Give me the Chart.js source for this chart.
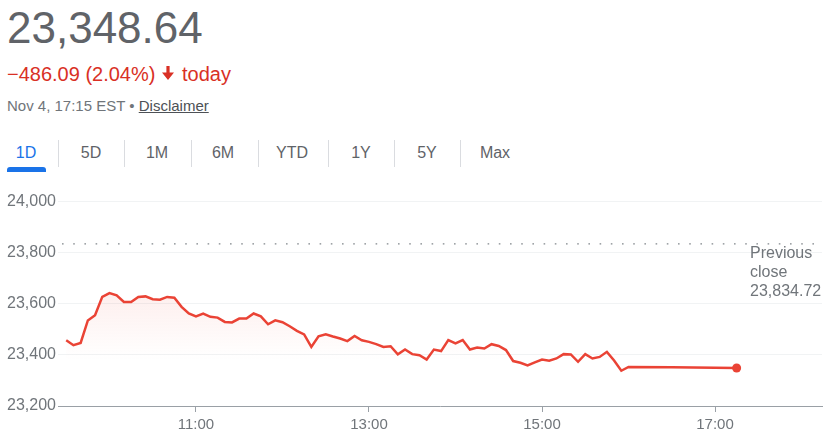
<!DOCTYPE html>
<html>
<head>
<meta charset="utf-8">
<script src="https://cdn.jsdelivr.net/npm/chart.js@4"></script>
<style>
  body { margin: 0; background: #fff; font-family: Arial, "Liberation Sans", sans-serif; }
  #page { position: relative; width: 835px; height: 439px; overflow: hidden; }
  .abs { position: absolute; white-space: nowrap; }
  #price { left: 7px; top: 6px; font-size: 44px; line-height: 44px; color: #606368; }
  #change { left: 7px; top: 62px; font-size: 20px; line-height: 24px; color: #d93025; }
  #today { left: 182px; top: 62px; font-size: 20px; line-height: 24px; color: #d93025; }
  #arrow { left: 162px; top: 66px; }
  #date { left: 7px; top: 97px; font-size: 15px; line-height: 18px; color: #70757a; }
  #date u { color: #4d5156; }
  .tab { width: 60px; text-align: center; top: 143px; font-size: 16px; line-height: 20px; color: #5f6368; }
  .sep { width: 1px; top: 140px; height: 27px; background: #dadce0; }
  #underline { left: 7px; top: 167px; width: 39px; height: 5px; background: #1a73e8; border-radius: 3px 3px 0 0; }
  #prev { left: 750px; top: 243px; font-size: 16px; line-height: 19px; color: #70757a; }
  #chartBox { position: absolute; left: 0; top: 190px; width: 835px; height: 249px; }
</style>
</head>
<body>
<div id="page">
  <div class="abs" id="price">23,348.64</div>
  <div class="abs" id="change">−486.09 (2.04%)</div>
  <svg class="abs" id="arrow" width="12" height="14" viewBox="0 0 12 14"><path fill="#d93025" d="M4.4 0h3.2v6.6H12L6 14 0 6.6h4.4z"/></svg>
  <div class="abs" id="today">today</div>
  <div class="abs" id="date">Nov 4, 17:15 EST • <u>Disclaimer</u></div>
  <div id="tabs"></div>
  <div class="abs" id="underline"></div>
  <div id="chartBox"><canvas id="lineChart" width="835" height="249"></canvas></div>
  <div class="abs" id="prev">Previous<br>close<br>23,834.72</div>
</div>
<script>
// trading times (EST) and index values
const times = [
  "09:30","09:35","09:40","09:45","09:50","09:55",
  "10:00","10:05","10:10","10:15","10:20","10:25","10:30","10:35","10:40","10:45","10:50","10:55",
  "11:00","11:05","11:10","11:15","11:20","11:25","11:30","11:35","11:40","11:45","11:50","11:55",
  "12:00","12:05","12:10","12:15","12:20","12:25","12:30","12:35","12:40","12:45","12:50","12:55",
  "13:00","13:05","13:10","13:15","13:20","13:25","13:30","13:35","13:40","13:45","13:50","13:55",
  "14:00","14:05","14:10","14:15","14:20","14:25","14:30","14:35","14:40","14:45","14:50","14:55",
  "15:00","15:05","15:10","15:15","15:20","15:25","15:30","15:35","15:40","15:45","15:50","15:55",
  "16:00","16:30","17:00","17:15"
];
const values = [
  23457, 23438, 23447, 23535, 23555, 23627, 23642, 23633, 23607, 23607,
  23627, 23629, 23618, 23616, 23627, 23624, 23588, 23562, 23551, 23562,
  23549, 23546, 23529, 23527, 23542, 23542, 23562, 23551, 23520, 23535,
  23528, 23512, 23494, 23480, 23431, 23473, 23481, 23472, 23464, 23454,
  23474, 23457, 23451, 23442, 23431, 23434, 23402, 23421, 23403, 23399,
  23382, 23421, 23415, 23458, 23445, 23458, 23421, 23429, 23425, 23442,
  23435, 23419, 23376, 23369, 23359, 23371, 23382, 23377, 23386, 23403,
  23402, 23373, 23403, 23386, 23392, 23412, 23378, 23338, 23353,
  23352, 23350, 23348.64
];
const previousClose = 23834.72;

const xTickLabels = ["11:00", "13:00", "15:00", "17:00"];
const yTickLabels = ["23,200", "23,400", "23,600", "23,800", "24,000"];
const yTickValues = [23200, 23400, 23600, 23800, 24000];

const tabNames = ["1D", "5D", "1M", "6M", "YTD", "1Y", "5Y", "Max"];

// tabs row
const tabCenters = [26, 91, 157, 223, 292, 361, 427, 495];
const sepX = [58, 124, 191, 258, 328, 394, 460];
let tabsEl = document.getElementById("tabs");
tabNames.forEach((name, i) => {
    let d = document.createElement("div");
    d.className = "abs tab";
    d.style.left = (tabCenters[i] - 30) + "px";
    d.textContent = name;
    if (i === 0) d.style.color = "#1a73e8";
    tabsEl.appendChild(d);
});
sepX.forEach(x => {
    let s = document.createElement("div");
    s.className = "abs sep";
    s.style.left = x + "px";
    tabsEl.appendChild(s);
});

function toMinutes(t) {
    let p = t.split(":");
    return parseInt(p[0], 10) * 60 + parseInt(p[1], 10);
}

let points = times.map((t, i) => ({ x: toMinutes(t), y: values[i] }));
let xTickValues = xTickLabels.map(toMinutes);
let lastIndex = points.length - 1;

const prevClosePlugin = {
    id: "prevClose",
    beforeDatasetsDraw(chart) {
        let ctx = chart.ctx;
        let area = chart.chartArea;
        let y = chart.scales.y.getPixelForValue(previousClose);
        ctx.save();
        ctx.strokeStyle = "#80868b";
        ctx.lineWidth = 1.3;
        ctx.setLineDash([1.6, 9.6]);
        ctx.beginPath();
        ctx.moveTo(area.left + 4, y);
        ctx.lineTo(area.right, y);
        ctx.stroke();
        ctx.restore();
    }
};

let lineData = {
    datasets: [{
        data: points,
        borderColor: "#ea4335",
        borderWidth: 2.5,
        tension: 0,
        fill: "start",
        backgroundColor: function (context) {
            let chart = context.chart;
            let area = chart.chartArea;
            if (!area) return "rgba(234,67,53,0.08)";
            let g = chart.ctx.createLinearGradient(0, area.top + 80, 0, chart.scales.y.getPixelForValue(23380));
            g.addColorStop(0, "rgba(234,67,53,0.10)");
            g.addColorStop(1, "rgba(234,67,53,0)");
            return g;
        },
        pointRadius: ctx => ctx.dataIndex === lastIndex ? 4.5 : 0,
        pointHoverRadius: 0,
        pointBackgroundColor: "#ea4335",
        pointBorderWidth: 0
    }]
};

let lineOptions = {
    responsive: false,
    animation: false,
    devicePixelRatio: 1,
    layout: { padding: { top: 11, right: 13, left: 0, bottom: 0 } },
    plugins: { legend: { display: false }, tooltip: { enabled: false } },
    scales: {
        x: {
            type: "linear",
            min: 564.3,
            max: 1094.2,
            afterBuildTicks: axis => { axis.ticks = xTickValues.map(v => ({ value: v })); },
            afterFit: axis => { axis.height = 33; },
            grid: { drawOnChartArea: false, drawTicks: true, tickLength: 6, color: "#9aa0a6" },
            border: { display: true, color: "#9aa0a6", width: 1 },
            ticks: {
                autoSkip: false,
                maxRotation: 0,
                padding: 4,
                color: "#70757a",
                font: { family: "Arial, 'Liberation Sans'", size: 15 },
                callback: v => xTickLabels[xTickValues.indexOf(v)]
            }
        },
        y: {
            min: 23200,
            max: 24000,
            afterBuildTicks: axis => { axis.ticks = yTickValues.map(v => ({ value: v })); },
            afterFit: axis => { axis.width = 58; },
            grid: { color: "#f1f3f4", drawTicks: false },
            border: { display: false },
            ticks: {
                padding: 2,
                color: "#70757a",
                font: { family: "Arial, 'Liberation Sans'", size: 16 },
                callback: v => yTickLabels[yTickValues.indexOf(v)]
            }
        }
    }
};

let ctx = document.getElementById("lineChart").getContext("2d");
new Chart(ctx, { type: "line", data: lineData, options: lineOptions, plugins: [prevClosePlugin] });
</script>
</body>
</html>
